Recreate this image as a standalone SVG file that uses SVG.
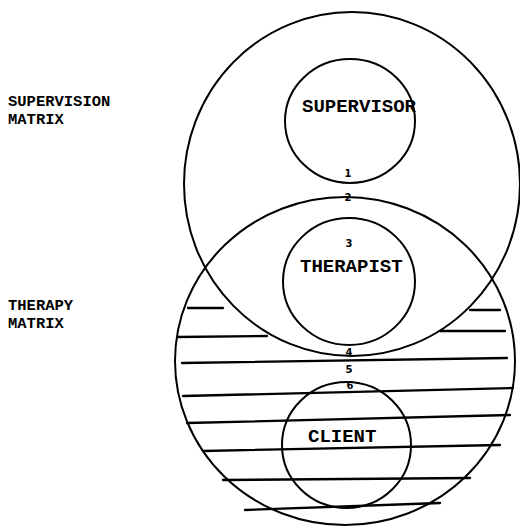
<svg xmlns="http://www.w3.org/2000/svg" width="520" height="532" viewBox="0 0 520 532">
<style>
.c{fill:none;stroke:#000;stroke-width:2}
.h{stroke:#000;stroke-width:2.3;stroke-linecap:round}
.lbl{font-family:"Liberation Mono","Courier New",monospace;font-weight:bold;font-size:19px;fill:#000}
.side{font-family:"Liberation Mono","Courier New",monospace;font-weight:bold;font-size:15.5px;fill:#000}
.num{font-family:"DejaVu Sans","Liberation Sans",sans-serif;font-weight:bold;font-size:10px;fill:#000;text-anchor:middle}
</style>
<rect width="520" height="532" fill="#fff"/>
<g id="hatching">
<line class="h" x1="188" y1="308" x2="223" y2="308"/>
<line class="h" x1="470" y1="310" x2="500" y2="310"/>
<line class="h" x1="177" y1="337" x2="267" y2="336"/>
<line class="h" x1="440" y1="331" x2="505" y2="331"/>
<line class="h" x1="182" y1="363" x2="507" y2="358"/>
<line class="h" x1="183" y1="396" x2="513" y2="388"/>
<line class="h" x1="187" y1="423" x2="510" y2="415"/>
<line class="h" x1="203" y1="451" x2="500" y2="445"/>
<line class="h" x1="223" y1="480" x2="470" y2="478"/>
<line class="h" x1="245" y1="510" x2="440" y2="503"/>
</g>
<g id="supervision-matrix">
<ellipse class="c" cx="352" cy="184" rx="168" ry="172"/>
<text class="side" x="8" y="106">SUPERVISION</text>
<text class="side" x="8" y="124">MATRIX</text>
</g>
<g id="therapy-matrix">
<ellipse class="c" cx="345" cy="361" rx="170" ry="164"/>
<text class="side" x="8" y="310">THERAPY</text>
<text class="side" x="8" y="328">MATRIX</text>
</g>
<g id="supervisor">
<ellipse class="c" cx="350" cy="121" rx="65" ry="62"/>
<text class="lbl" x="302" y="112">SUPERVISOR</text>
</g>
<g id="therapist">
<ellipse class="c" cx="349" cy="281.5" rx="66" ry="63.5"/>
<text class="lbl" x="300" y="272">THERAPIST</text>
</g>
<g id="client">
<ellipse class="c" cx="346.5" cy="445" rx="64.5" ry="63"/>
<text class="lbl" x="308" y="442">CLIENT</text>
</g>
<g id="connectors">
<text class="num" x="348" y="177">1</text>
<text class="num" x="348" y="201">2</text>
<text class="num" x="349" y="247">3</text>
<text class="num" x="349" y="356">4</text>
<text class="num" x="349" y="373">5</text>
<text class="num" x="350" y="389">6</text>
</g>
</svg>
